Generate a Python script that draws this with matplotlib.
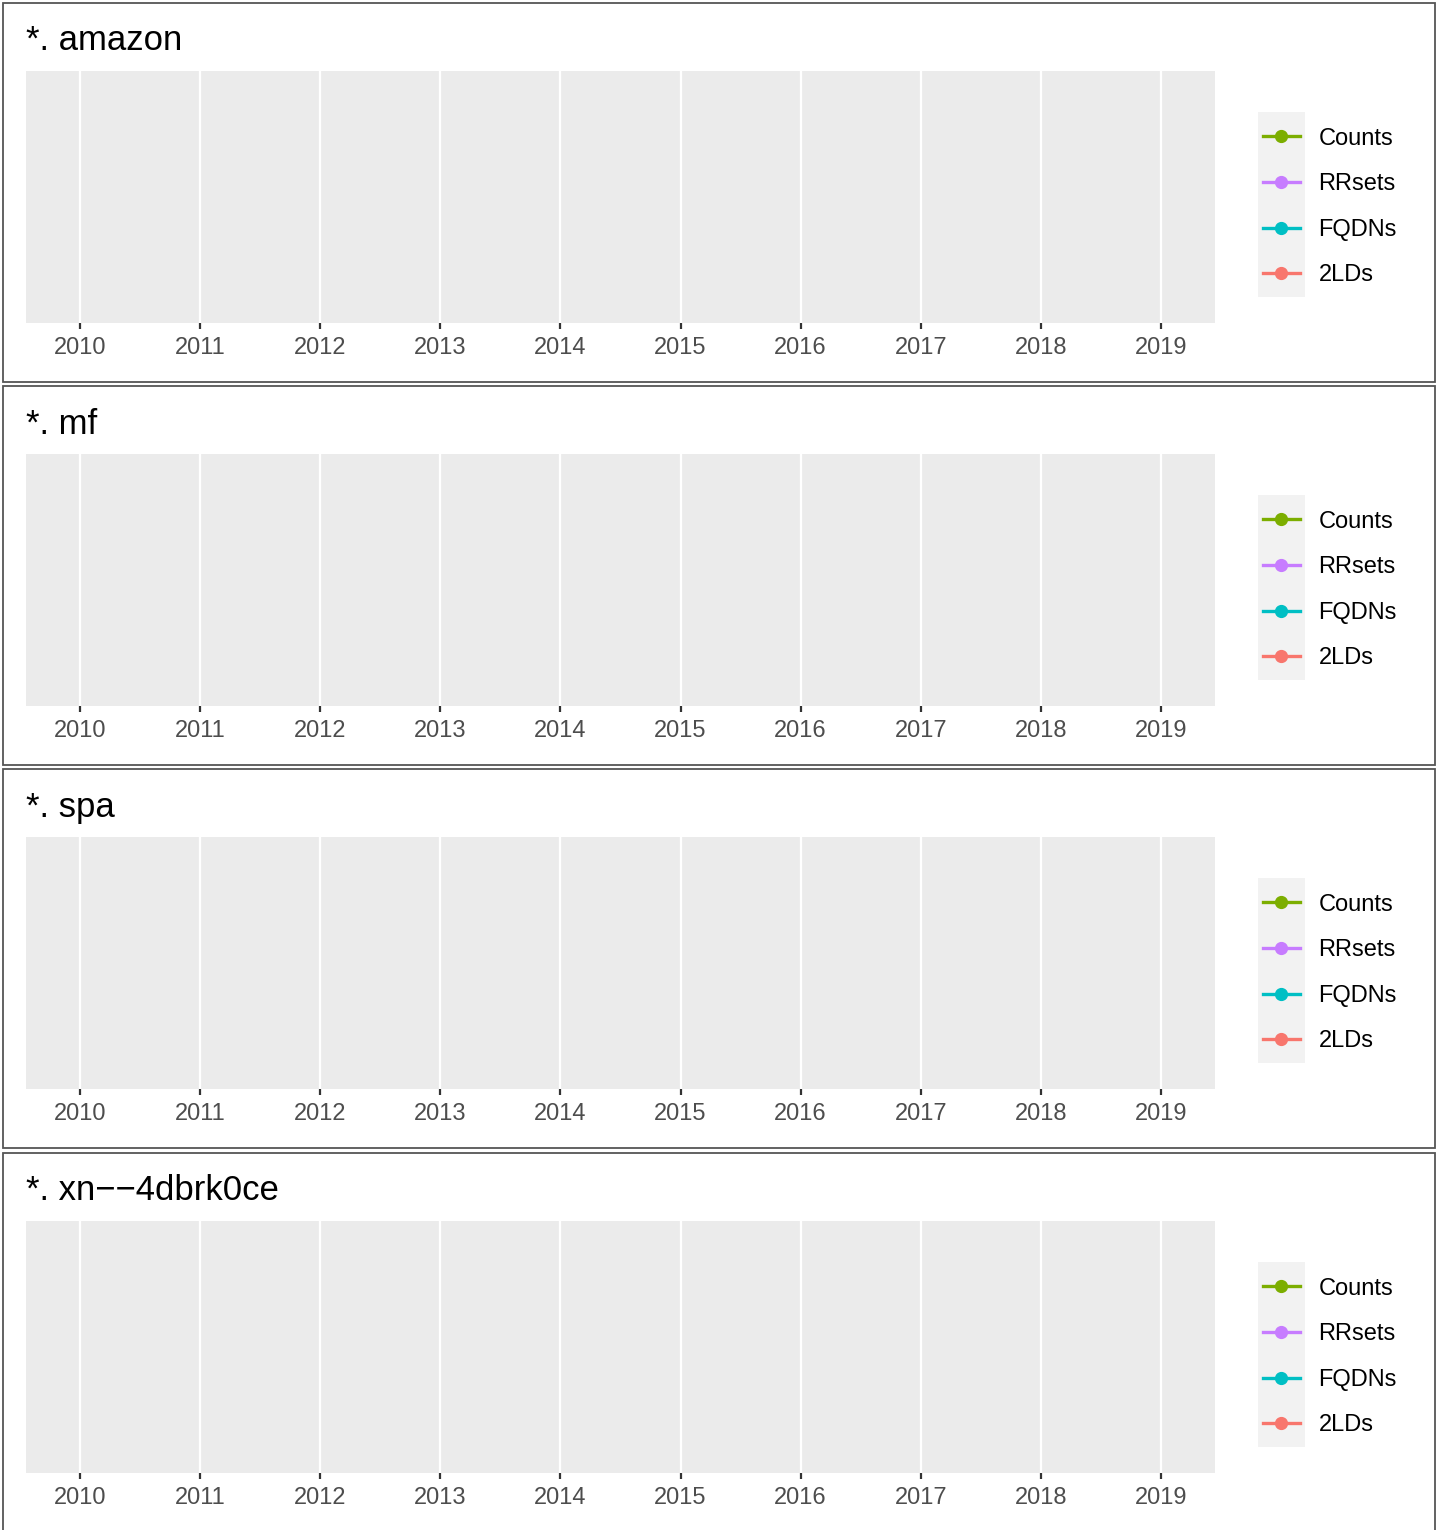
import matplotlib.pyplot as plt
from matplotlib.lines import Line2D
from matplotlib.patches import Rectangle

# chart content
domains = ["amazon", "mf", "spa", "xn--4dbrk0ce"]
years = [2010, 2011, 2012, 2013, 2014, 2015, 2016, 2017, 2018, 2019]
series = ["Counts", "RRsets", "FQDNs", "2LDs"]
series_colors = ["#7CAE00", "#C77CFF", "#00BFC4", "#F8766D"]

W, H = 1437, 1530
plt.rcParams["font.family"] = ["Liberation Sans", "DejaVu Sans"]

fig = plt.figure(figsize=(W / 100, H / 100), dpi=100)


def fx(px):
    return px / W


def fy(py):
    return 1 - py / H


panel_tops = [3, 386, 769, 1153]
box_h = 379

for dom, top in zip(domains, panel_tops):
    # panel border
    fig.patches.append(Rectangle((fx(3), fy(top + box_h)), fx(1432), box_h / H,
                                 transform=fig.transFigure, fill=False,
                                 edgecolor="#555555", linewidth=1.3, zorder=-1))

    ax = fig.add_axes([fx(26), fy(top + 320), fx(1215 - 26), (320 - 68) / H])
    ax.set_facecolor("#EBEBEB")
    for s in ax.spines.values():
        s.set_visible(False)

    # no observations in these panels: empty series
    for name, col in zip(series, series_colors):
        ax.plot([], [], color=col, marker="o", label=name)

    ax.set_xlim(min(years) - 0.45, max(years) + 0.45)
    ax.set_ylim(0, 1)
    ax.set_xticks(years)
    ax.set_xticklabels([str(y) for y in years])
    ax.set_yticks([])
    ax.grid(axis="x", color="white", linewidth=1.6)
    ax.set_axisbelow(True)
    ax.tick_params(axis="x", length=4, width=1.6, color="#333333",
                   labelsize=17, labelcolor="#4D4D4D", pad=6)

    fig.text(fx(26), fy(top + 38), "*. " + dom.replace("-", "\u2212"),
             fontsize=25, va="center", ha="left", color="black")

    # legend key background
    fig.patches.append(Rectangle((fx(1258), fy(top + 294)), fx(47), 185 / H,
                                 transform=fig.transFigure, facecolor="#F2F2F2",
                                 edgecolor="none", zorder=-1))
    handles = [Line2D([], [], color=c, marker="o", markersize=8.5, linewidth=2.4)
               for c in series_colors]
    leg = ax.legend(handles, series, loc="center left",
                    bbox_to_anchor=(fx(1263), fy(top + 204)),
                    bbox_transform=fig.transFigure, frameon=False, fontsize=17,
                    borderpad=0, borderaxespad=0, handlelength=1.55,
                    handletextpad=0.8, labelspacing=1.0)
    leg.set_zorder(5)

fig.savefig("out.png", dpi=100)
